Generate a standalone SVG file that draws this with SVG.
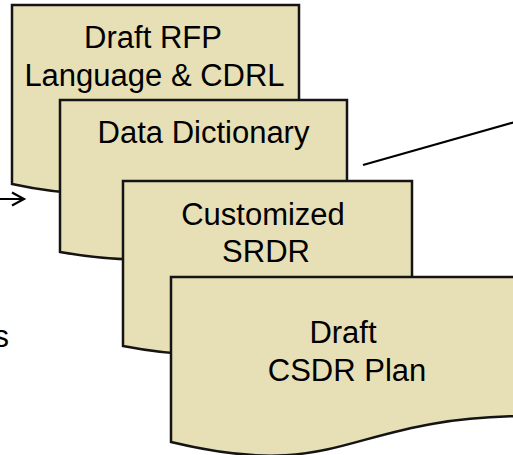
<svg xmlns="http://www.w3.org/2000/svg" width="513" height="455" viewBox="0 0 513 455">
  <style>
    .doc { fill: #E7DFB5; stroke: #141414; stroke-width: 2.5; stroke-linejoin: miter; }
    .lbl { font-family: "Liberation Sans", Arial, sans-serif; font-size: 31px; fill: #000; text-anchor: middle; }
    .conn { stroke: #000; stroke-width: 2.2; fill: none; }
  </style>
  <rect width="513" height="455" fill="#FFFFFF"/>
  <g id="connectors">
    <line class="conn" x1="363" y1="165" x2="515" y2="122"/>
    <path class="conn" d="M0,199 H24 M12,192.5 L24,199 L12,205.5" stroke-width="2"/>
  </g>
  <g id="node-draft-rfp">
    <path class="doc" d="M12,5 H299 V158 C155,158 155,215 12,184 Z"/>
    <text class="lbl" x="153" y="48">Draft RFP</text>
    <text class="lbl" x="154.5" y="86">Language &amp; CDRL</text>
  </g>
  <g id="node-data-dictionary">
    <path class="doc" d="M60,100 H347 V230 C203.5,230 203.5,277 60,252 Z"/>
    <text class="lbl" x="203.5" y="143">Data Dictionary</text>
  </g>
  <g id="node-customized-srdr">
    <path class="doc" d="M123,181 H412 V322 C267.5,322 267.5,374 123,346 Z"/>
    <text class="lbl" x="263" y="225">Customized</text>
    <text class="lbl" x="266" y="262">SRDR</text>
  </g>
  <g id="node-draft-csdr-plan">
    <path class="doc" d="M171,277 H531 V416 C345,416 345,484 171,442 Z"/>
    <text class="lbl" x="343" y="343">Draft</text>
    <text class="lbl" x="347" y="381">CSDR Plan</text>
  </g>
  <text class="lbl" x="9" y="347" style="text-anchor:end">s</text>
</svg>
